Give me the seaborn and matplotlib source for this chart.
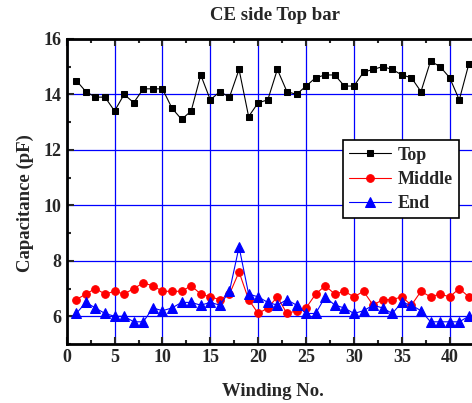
import numpy as np
import pandas as pd
import matplotlib
matplotlib.use("Agg")
import matplotlib.pyplot as plt
from matplotlib.ticker import MultipleLocator, FixedLocator
import seaborn as sns

winding = list(range(1, 43))
top = [14.5, 14.1, 13.9, 13.9, 13.4, 14.0, 13.7, 14.2, 14.2, 14.2,
       13.5, 13.1, 13.4, 14.7, 13.8, 14.1, 13.9, 14.9, 13.2, 13.7,
       13.8, 14.9, 14.1, 14.0, 14.3, 14.6, 14.7, 14.7, 14.3, 14.3,
       14.8, 14.9, 15.0, 14.9, 14.7, 14.6, 14.1, 15.2, 15.0, 14.6,
       13.8, 15.1]
middle = [6.6, 6.8, 7.0, 6.8, 6.9, 6.8, 7.0, 7.2, 7.1, 6.9,
          6.9, 6.9, 7.1, 6.8, 6.7, 6.6, 6.8, 7.6, 6.6, 6.1,
          6.3, 6.7, 6.1, 6.2, 6.3, 6.8, 7.1, 6.8, 6.9, 6.7,
          6.9, 6.4, 6.6, 6.6, 6.7, 6.4, 6.9, 6.7, 6.8, 6.7,
          7.0, 6.7]
end = [6.1, 6.5, 6.3, 6.1, 6.0, 6.0, 5.8, 5.8, 6.3, 6.2,
       6.3, 6.5, 6.5, 6.4, 6.5, 6.4, 6.9, 8.5, 6.8, 6.7,
       6.5, 6.4, 6.6, 6.4, 6.1, 6.1, 6.7, 6.4, 6.3, 6.1,
       6.2, 6.4, 6.3, 6.1, 6.5, 6.4, 6.2, 5.8, 5.8, 5.8,
       5.8, 6.0]
xticks = [0, 5, 10, 15, 20, 25, 30, 35, 40]
series_names = ["Top", "Middle", "End"]
title = "CE side Top bar"
xlabel = "Winding No."
ylabel = "Capacitance (pF)"

sns.set_style("ticks")
plt.rcParams['font.family'] = ['Liberation Serif', 'DejaVu Serif']
plt.rcParams['font.weight'] = 'bold'

fig = plt.figure(figsize=(4.72, 4.03), dpi=100)
unit = 9.575
ax = fig.add_axes([66.7 / 472, (403 - 344) / 403, 45 * unit / 472, (344 - 38.9) / 403])

styles = [("black", "s", 5), ("red", "o", 5.5), ("blue", "^", 6.5)]
for name, vals, (c, m, ms) in zip(series_names, [top, middle, end], styles):
    df = pd.DataFrame({"x": winding, "y": vals})
    sns.lineplot(data=df, x="x", y="y", ax=ax, color=c, marker=m, markersize=ms,
                 markeredgecolor=c, markerfacecolor=c, linewidth=0.8, label=name)

ax.set_xlim(0, 45)
ax.set_ylim(5, 16)
ax.xaxis.set_major_locator(FixedLocator(xticks))
ax.xaxis.set_minor_locator(MultipleLocator(2.5))
ax.yaxis.set_major_locator(MultipleLocator(2))
ax.yaxis.set_minor_locator(MultipleLocator(1))
ax.grid(True, which="major", color="blue", linewidth=0.9)
ax.set_axisbelow(True)
ax.tick_params(which="both", direction="in", top=True, right=True, width=1.5)
ax.tick_params(which="major", length=5, labelsize=13)
ax.tick_params(which="minor", length=3)
for lab in ax.get_xticklabels() + ax.get_yticklabels():
    lab.set_fontweight("bold")
for s in ax.spines.values():
    s.set_linewidth(2)
    s.set_color("black")

ax.set_xlabel("")
ax.set_ylabel("")
fig.text(273 / 472, 1 - 392 / 403, xlabel, ha="center", va="center", fontsize=13.5, fontweight="bold")
fig.text(25 / 472, 1 - 203 / 403, ylabel, ha="center", va="center", rotation=90, fontsize=13.5, fontweight="bold")
fig.text(275 / 472, 1 - 16 / 403, title, ha="center", va="center", fontsize=13.5, fontweight="bold")

leg = ax.legend(loc="upper left", bbox_to_anchor=((342.7 - 66.7) / (45 * unit), (344 - 140.3) / (344 - 38.9)),
                borderaxespad=0, frameon=True, fancybox=False, edgecolor="black", framealpha=1,
                prop={"weight": "bold", "size": 13}, handlelength=2.3, borderpad=0.35,
                labelspacing=0.4, handletextpad=0.4)
leg.get_frame().set_linewidth(1.2)

fig.savefig("out.png", dpi=100)
